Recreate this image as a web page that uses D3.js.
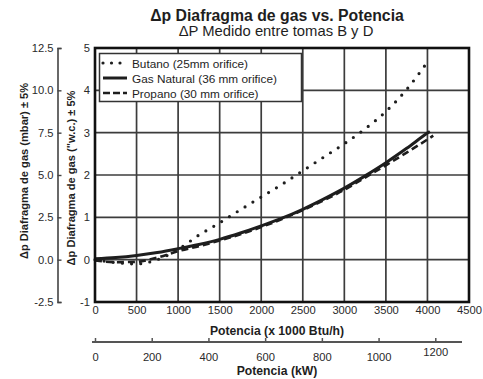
<!DOCTYPE html>
<html>
<head>
<meta charset="utf-8">
<script src="https://cdn.jsdelivr.net/npm/d3@7"></script>
<style>
  html, body { margin: 0; padding: 0; background: #fff; }
  svg { display: block; font-family: "Liberation Sans", Arial, Helvetica, sans-serif; }
</style>
</head>
<body>
<svg id="chart" width="483" height="379"></svg>
<script>
// Potencia (x 1000 Btu/h) and pressure drop ("w.c.) per gas
const butanoX  = [0, 250, 500, 750, 1000, 1250, 1500, 1750, 2000, 2250, 2500, 2750, 3000, 3250, 3500, 3750, 4000];
const butanoY  = [0.0, -0.07, -0.1, 0.0, 0.24, 0.58, 0.87, 1.18, 1.48, 1.78, 2.1, 2.42, 2.74, 3.09, 3.5, 4.02, 4.67];
const naturalX = [0, 250, 500, 750, 1000, 1250, 1500, 1750, 2000, 2250, 2500, 2750, 3000, 3250, 3500, 3750, 4000, 4030];
const naturalY = [0.02, 0.05, 0.1, 0.17, 0.26, 0.36, 0.48, 0.63, 0.8, 0.98, 1.19, 1.43, 1.69, 1.98, 2.29, 2.63, 2.99, 3.03];
const propanoX = [0, 250, 500, 750, 1000, 1250, 1500, 1750, 2000, 2250, 2500, 2750, 3000, 3250, 3500, 3750, 4000, 4070];
const propanoY = [-0.02, -0.06, -0.05, 0.05, 0.2, 0.32, 0.45, 0.6, 0.77, 0.96, 1.17, 1.4, 1.65, 1.94, 2.23, 2.53, 2.84, 2.93];

// Axis ticks
const btuTicks  = [0, 500, 1000, 1500, 2000, 2500, 3000, 3500, 4000, 4500];
const wcTicks   = [-1, 0, 1, 2, 3, 4, 5];
const mbarTicks = [-2.5, 0, 2.5, 5, 7.5, 10, 12.5];
const kwTicks   = [0, 200, 400, 600, 800, 1000, 1200];

// Legend entries
const seriesNames = ["Butano (25mm orifice)", "Gas Natural (36 mm orifice)", "Propano (30 mm orifice)"];

const KW_TO_KBTU = 3.412;

const svg = d3.select("#chart");
const plot = { left: 95, right: 469, top: 48, bottom: 302 };

const x = d3.scaleLinear().domain([0, 4500]).range([plot.left, plot.right]);
const y = d3.scaleLinear().domain([-1, 5]).range([plot.bottom, plot.top]);
const yMbar = d3.scaleLinear().domain([-2.5, 12.5]).range([plot.bottom, plot.top]);
const xKw = d3.scaleLinear().domain([0, 4500 / KW_TO_KBTU]).range([plot.left, plot.right]);

const ink = "#1e1e1e";
const gridInk = "#3c3c3c";

// Titles
svg.append("text").attr("x", 277).attr("y", 21).attr("text-anchor", "middle")
  .attr("font-size", 15.8).attr("font-weight", "bold").attr("fill", ink)
  .text("Δp Diafragma de gas vs. Potencia");
svg.append("text").attr("x", 276).attr("y", 36).attr("text-anchor", "middle")
  .attr("font-size", 14.8).attr("fill", ink)
  .text("ΔP Medido entre tomas B y D");

// Grid
const grid = svg.append("g");
grid.selectAll("line.v").data(btuTicks.filter(d => d > 0 && d < 4500)).join("line")
  .attr("x1", d => x(d)).attr("x2", d => x(d))
  .attr("y1", plot.top).attr("y2", plot.bottom)
  .attr("stroke", gridInk).attr("stroke-width", 1.7);
grid.selectAll("line.h").data(wcTicks.filter(d => d > -1 && d < 5)).join("line")
  .attr("x1", plot.left).attr("x2", plot.right)
  .attr("y1", d => y(d)).attr("y2", d => y(d))
  .attr("stroke", gridInk).attr("stroke-width", 1.7);

// Curves
const line = d3.line().x(d => x(d[0])).y(d => y(d[1])).curve(d3.curveMonotoneX);
const zip = (xs, ys) => xs.map((v, i) => [v, ys[i]]);

const curves = svg.append("g").attr("fill", "none").attr("stroke", ink);
curves.append("path").datum(zip(naturalX, naturalY)).attr("d", line)
  .attr("stroke-width", 3);
curves.append("path").datum(zip(propanoX, propanoY)).attr("d", line)
  .attr("stroke-width", 2.6).attr("stroke-dasharray", "7 4");
curves.append("path").datum(zip(butanoX, butanoY)).attr("d", line)
  .attr("stroke-width", 3.2).attr("stroke-linecap", "round").attr("stroke-dasharray", "0 9.2");

// Legend
const legend = svg.append("g");
legend.append("rect").attr("x", 99.5).attr("y", 53.5).attr("width", 202).attr("height", 48)
  .attr("fill", "#fff").attr("stroke", "#333").attr("stroke-width", 1.5);
const legendStyles = [
  { w: 3.2, dash: "0 8.5", cap: "round" },
  { w: 3, dash: null, cap: "butt" },
  { w: 2.6, dash: "7 3", cap: "butt" }
];
seriesNames.forEach((name, i) => {
  const ly = 63 + i * 15;
  const s = legendStyles[i];
  legend.append("line").attr("x1", 103).attr("x2", 127).attr("y1", ly).attr("y2", ly)
    .attr("stroke", ink).attr("stroke-width", s.w)
    .attr("stroke-dasharray", s.dash).attr("stroke-linecap", s.cap);
  legend.append("text").attr("x", 132).attr("y", ly + 4.5)
    .attr("font-size", 11.8).attr("fill", ink).text(name);
});

// Frame
svg.append("rect").attr("x", plot.left).attr("y", plot.top)
  .attr("width", plot.right - plot.left).attr("height", plot.bottom - plot.top)
  .attr("fill", "none").attr("stroke", "#111").attr("stroke-width", 2.6);

// Bottom axis (x 1000 Btu/h)
const xAxis = svg.append("g").attr("transform", `translate(0,${plot.bottom})`)
  .call(d3.axisBottom(x).tickValues(btuTicks).tickSize(0).tickPadding(4).tickFormat(d3.format("d")));
xAxis.select(".domain").remove();
xAxis.selectAll("text").attr("font-size", 11.2).attr("fill", "#2a2a2a").attr("font-family", null);

svg.append("text").attr("x", 277).attr("y", 335).attr("text-anchor", "middle")
  .attr("font-size", 12.2).attr("font-weight", "bold").attr("fill", ink)
  .text("Potencia (x 1000 Btu/h)");

// Second bottom axis (kW)
const kwY = 342;
svg.append("line").attr("x1", 92).attr("x2", 462).attr("y1", kwY).attr("y2", kwY)
  .attr("stroke", "#555").attr("stroke-width", 1.8);
const kwAxis = svg.append("g").attr("transform", `translate(0,${kwY})`)
  .call(d3.axisBottom(xKw).tickValues(kwTicks).tickSizeInner(-4).tickSizeOuter(0).tickPadding(11).tickFormat(d3.format("d")));
kwAxis.select(".domain").remove();
kwAxis.selectAll(".tick line").attr("stroke", "#555").attr("stroke-width", 1.5);
kwAxis.selectAll("text").attr("font-size", 11.2).attr("fill", "#2a2a2a").attr("font-family", null);
kwAxis.selectAll(".tick").filter(d => d === 1200).select("text").attr("y", 6);

svg.append("text").attr("x", 277).attr("y", 375).attr("text-anchor", "middle")
  .attr("font-size", 12.2).attr("font-weight", "bold").attr("fill", ink)
  .text("Potencia (kW)");

// Left axis ("w.c.)
const yAxis = svg.append("g").attr("transform", `translate(${plot.left},0)`)
  .call(d3.axisLeft(y).tickValues(wcTicks).tickSize(0).tickPadding(5).tickFormat(d => String(d)));
yAxis.select(".domain").remove();
yAxis.selectAll("text").attr("font-size", 11.2).attr("fill", "#2a2a2a").attr("font-family", null);

svg.append("text")
  .attr("transform", `translate(75,178) rotate(-90)`).attr("text-anchor", "middle")
  .attr("font-size", 11.1).attr("font-weight", "bold").attr("fill", ink)
  .text("Δp Diafragma de gas (\"w.c.) ± 5%");

// Outer left axis (mbar)
const mAxis = svg.append("g").attr("transform", "translate(57.5,0)")
  .call(d3.axisLeft(yMbar).tickValues(mbarTicks).tickSizeInner(-4).tickSizeOuter(-4).tickPadding(4)
    .tickFormat(d => d.toFixed(1)));
mAxis.select(".domain").attr("stroke", "#444").attr("stroke-width", 1.6);
mAxis.selectAll(".tick line").attr("stroke", "#444").attr("stroke-width", 1.4);
mAxis.selectAll("text").attr("font-size", 11.2).attr("fill", "#2a2a2a").attr("font-family", null);

svg.append("text")
  .attr("transform", `translate(28,171) rotate(-90)`).attr("text-anchor", "middle")
  .attr("font-size", 11.1).attr("font-weight", "bold").attr("fill", ink)
  .text("Δp Diafragma de gas (mbar) ± 5%");
</script>
</body>
</html>
